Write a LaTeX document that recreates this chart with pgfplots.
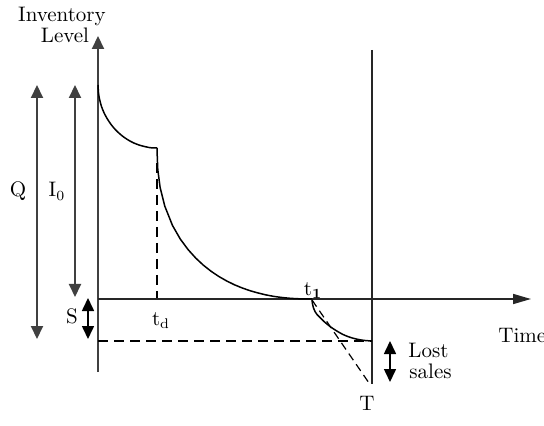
\documentclass[border=0pt]{standalone}
\usepackage{pgfplots}
\pgfplotsset{compat=1.18}
\usetikzlibrary{arrows.meta}
\begin{document}
\begin{tikzpicture}[font=\fontsize{10.5}{12.6}\selectfont]
\useasboundingbox (0,0) rectangle (272pt,213pt);
\clip (0,0) rectangle (272pt,213pt);
\begin{axis}[
  at={(0,0)}, anchor=south west,
  scale only axis, width=272pt, height=213pt,
  xmin=0, xmax=544, ymin=0, ymax=426, y dir=reverse,
  hide axis, clip=false,
]
% axes
\addplot[draw=black!75, line width=1pt, -{Triangle[length=6.5pt,width=6pt]}] coordinates {(98,372) (98,36)};
\addplot[draw=black!85, line width=0.8pt, -{Triangle[length=9pt,width=5pt]}] coordinates {(98,299) (531,299)};
% vertical line at T
\addplot[draw=black!85, line width=0.8pt] coordinates {(372,50) (372,384)};
% inventory curve
\addplot[black, line width=0.75pt, smooth] coordinates {(98,85) (98.6,93.9) (99.8,100.3) (101.5,106.5) (103.9,112.5) (106.9,118.2) (111,124.4) (115.7,130) (121.6,135.4) (127.5,139.6) (133.4,142.8) (139.3,145.1) (145.2,146.7) (150.1,147.7) (157,148)};
\addplot[black, line width=0.75pt, line join=round] coordinates {(157,148) (157.2,155) (157.78,169.6) (160.1,187.4) (164.75,206.1) (172.5,225.5) (180.25,239.0) (188,249.5) (195.75,258.1) (203.5,265.3) (211.25,271.4) (219,276.6) (226.75,281.0) (234.5,284.8) (242.25,288.0) (250,290.7) (257.75,292.9) (265.5,294.8) (273.25,296.3) (281,297.4) (288.75,298.2) (296.5,298.7) (304.25,298.9) (312,299)};
\addplot[black, line width=0.75pt, smooth] coordinates {(312,300) (312.5,304) (313.5,308) (315,311.5) (317,314.5) (320,317.5) (324,321.5) (330,326.5) (336,330.5) (343,334.5) (350,337.3) (357,339.2) (364,340.4) (372,341)};
% dashed lines
\addplot[black, line width=0.7pt, dash pattern=on 5pt off 3pt] coordinates {(157,163) (157,298)};
\addplot[black, line width=0.7pt, dash pattern=on 5pt off 3pt] coordinates {(98,341) (372,341)};
\addplot[black, line width=0.6pt, dash pattern=on 4pt off 2.5pt] coordinates {(312,300) (369,383)};
% dimension arrows
\addplot[draw=black!75, line width=1pt, {Triangle[length=6.5pt,width=6pt]}-{Triangle[length=6.5pt,width=6pt]}] coordinates {(37,85) (37,339)};
\addplot[draw=black!75, line width=1pt, {Triangle[length=6.5pt,width=6pt]}-{Triangle[length=6.5pt,width=6pt]}] coordinates {(75,85) (75,297)};
\addplot[black, line width=0.8pt, {Triangle[length=6.5pt,width=6pt]}-{Triangle[length=6.5pt,width=6pt]}] coordinates {(88,298) (88,339)};
\addplot[black, line width=0.8pt, {Triangle[length=6.5pt,width=6pt]}-{Triangle[length=6.5pt,width=6pt]}] coordinates {(390,341) (390,382)};
% labels
\node[anchor=base] at (axis cs:62,22) {Inventory};
\node[anchor=base] at (axis cs:65,43) {Level};
\node[anchor=base] at (axis cs:18,197) {Q};
\node[anchor=base] at (axis cs:57,197) {I$_0$};
\node[anchor=base] at (axis cs:72,323) {S};
\node[anchor=base] at (axis cs:161,325) {t$_\mathrm{d}$};
\node[anchor=base] at (axis cs:313,295) {t$_\mathbf{1}$};
\node[anchor=base] at (axis cs:367,410) {T};
\node[anchor=base west, inner sep=0pt] at (axis cs:498,342) {Time};
\node[anchor=base west, inner sep=0pt] at (axis cs:408,357) {Lost};
\node[anchor=base west, inner sep=0pt] at (axis cs:409,378) {sales};
\end{axis}
\end{tikzpicture}
\end{document}
